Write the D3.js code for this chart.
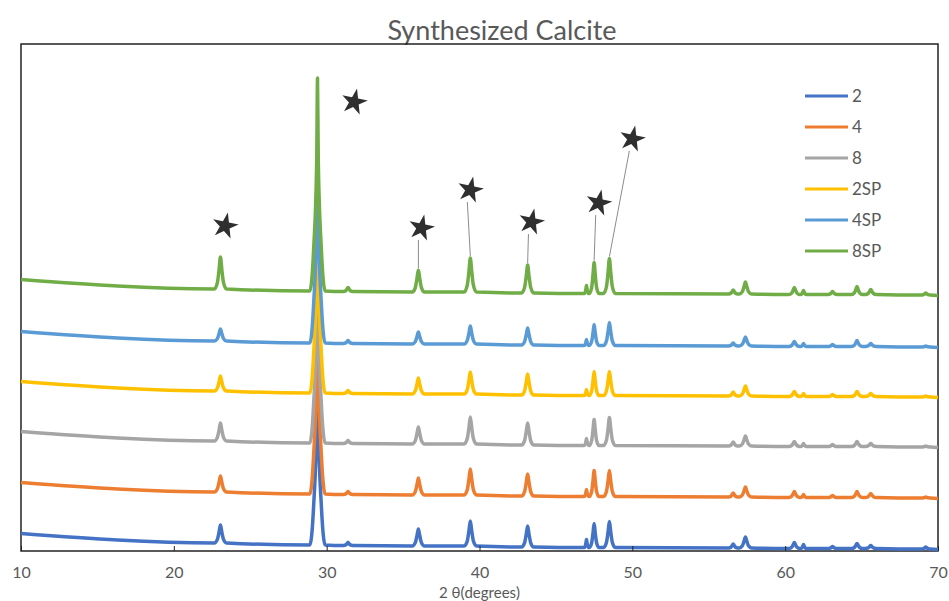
<!DOCTYPE html>
<html>
<head>
<meta charset="utf-8">
<script src="https://cdn.jsdelivr.net/npm/d3@7"></script>
<style>
  body { margin: 0; background: #fff; }
  text { font-family: Lato, "Liberation Sans", sans-serif; fill: #595959; }
</style>
</head>
<body>
<svg id="chart" width="949" height="601"></svg>
<script>
// series, drawn bottom to top
const seriesNames = ['2', '4', '8', '2SP', '4SP', '8SP']
const seriesColors = ['#4472C4', '#ED7D31', '#A5A5A5', '#FFC000', '#5B9BD5', '#70AD47']
const xTicks = [10, 20, 30, 40, 50, 60, 70]

// reflections (2 theta, degrees) and their half base width
const peakPos = [23.05, 29.4, 31.4, 36.0, 39.4, 43.15, 47.0, 47.5, 48.5, 56.6, 57.4, 60.6, 61.2, 63.1, 64.7, 65.6, 69.2]
const peakWidth = [0.4, 0.5, 0.3, 0.4, 0.4, 0.4, 0.15, 0.32, 0.38, 0.3, 0.4, 0.35, 0.2, 0.3, 0.35, 0.35, 0.3]
// background drift under each reflection, relative to the level near 28 deg
const baseDrift = [20, 0, -5, -10, -10, -20, -25, -25, -25, -30, -30, -35, -35, -35, -35, -35, -40]
const edgePos = [10, 70]
const edgeDrift = [115, -45]

// stacking offset of each pattern (a.u.)
const offsets = [60, 570, 1080, 1580, 2080, 2600]

// peak heights above background (a.u.)
const h2 = [180, 2000, 30, 170, 250, 210, 80, 240, 260, 40, 110, 60, 40, 20, 50, 30, 20]
const h4 = [160, 2000, 30, 170, 260, 220, 70, 260, 260, 40, 100, 60, 30, 20, 60, 40, 10]
const h8 = [180, 2000, 30, 170, 270, 220, 70, 260, 280, 40, 100, 50, 30, 20, 50, 30, 10]
const h2SP = [150, 2000, 30, 160, 220, 210, 60, 240, 240, 40, 100, 50, 30, 20, 50, 30, 10]
const h4SP = [120, 2000, 30, 120, 180, 170, 60, 210, 230, 30, 90, 50, 30, 20, 60, 30, 10]
const h8SP = [320, 2130, 40, 220, 340, 280, 80, 310, 350, 40, 120, 70, 40, 30, 80, 50, 20]
const heights = [h2, h4, h8, h2SP, h4SP, h8SP]

// star markers (2 theta, a.u.) and the reflection each one points to
const starPos = [23.35, 31.8, 36.2, 39.4, 43.4, 47.8, 50.0]
const starLevel = [3250, 4490, 3230, 3610, 3290, 3480, 4120]
const starPeak = [-1, -1, 3, 4, 5, 7, 8]

const svg = d3.select('#chart')
const margin = { left: 21, right: 11, top: 44, bottom: 50 }
const W = 949, H = 601

const x = d3.scaleLinear().domain([10, 70]).range([margin.left, W - margin.right])
const y = d3.scaleLinear().domain([0, 5070]).range([H - margin.bottom, margin.top])

function buildSeries(k) {
  const pts = [[edgePos[0], offsets[k] + edgeDrift[0]]]
  peakPos.forEach(function (p, i) {
    const b = offsets[k] + baseDrift[i]
    const h = heights[k][i]
    const w = peakWidth[i]
    // the main reflection keeps a narrow tip, the others are rounder
    const tip = i === 1 ? 0.1 : 0.22
    pts.push([p - w, b], [p - 0.5 * w, b + 0.2 * h], [p - tip * w, b + 0.62 * h], [p, b + h],
      [p + tip * w, b + 0.62 * h], [p + 0.5 * w, b + 0.2 * h], [p + w, b])
  })
  pts.push([edgePos[1], offsets[k] + edgeDrift[1]])
  return pts
}

const line = d3.line()
  .x(function (d) { return x(d[0]) })
  .y(function (d) { return y(d[1]) })
  .curve(d3.curveMonotoneX)

// title
svg.append('text')
  .attr('x', 502).attr('y', 40)
  .attr('text-anchor', 'middle')
  .style('font-size', '27px')
  .text('Synthesized Calcite')

// plot frame
svg.append('rect')
  .attr('x', x(10)).attr('y', y(5070))
  .attr('width', x(70) - x(10)).attr('height', y(0) - y(5070))
  .attr('fill', 'none').attr('stroke', '#222').attr('stroke-width', 1.5)

// patterns
const plot = svg.append('g')
seriesNames.forEach(function (name, k) {
  plot.append('path')
    .datum(buildSeries(k))
    .attr('fill', 'none')
    .attr('stroke', seriesColors[k])
    .attr('stroke-width', 3.5)
    .attr('stroke-linejoin', 'round')
    .attr('d', line)
})

// x axis, ticks point inward
const xAxis = svg.append('g')
  .attr('transform', 'translate(0,' + y(0) + ')')
  .call(d3.axisBottom(x).tickValues(xTicks).tickSizeInner(-5).tickSizeOuter(0).tickPadding(16))
xAxis.select('.domain').remove()
xAxis.selectAll('line').attr('stroke', '#222')
xAxis.selectAll('text')
  .style('font-family', 'Lato, "Liberation Sans", sans-serif')
  .style('font-size', '16px')
  .attr('fill', '#595959')

svg.append('text')
  .attr('x', (x(10) + x(70)) / 2).attr('y', 598)
  .attr('text-anchor', 'middle')
  .style('font-size', '15px')
  .text('2 θ(degrees)')

// stars and leader lines to the 8SP reflections
const top8SP = function (i) {
  return offsets[5] + baseDrift[i] + h8SP[i]
}
starPos.forEach(function (s, j) {
  const sx = x(s), sy = y(starLevel[j])
  if (starPeak[j] >= 0) {
    const p = starPeak[j]
    svg.append('line')
      .attr('x1', sx - 3).attr('y1', sy + 12)
      .attr('x2', x(peakPos[p])).attr('y2', y(top8SP(p)) - 2)
      .attr('stroke', '#8c8c8c').attr('stroke-width', 1)
  }
  svg.append('path')
    .attr('d', d3.symbol(d3.symbolStar, 210)())
    .attr('transform', 'translate(' + sx + ',' + sy + ') rotate(12)')
    .attr('fill', '#2f2f2f')
})

// legend
const legend = svg.append('g').attr('transform', 'translate(805,96)')
seriesNames.forEach(function (name, k) {
  const g = legend.append('g').attr('transform', 'translate(0,' + (k * 31) + ')')
  g.append('line')
    .attr('x1', 0).attr('x2', 43)
    .attr('stroke', seriesColors[k]).attr('stroke-width', 3)
  g.append('text')
    .attr('x', 47).attr('dy', '0.35em')
    .style('font-size', '17px')
    .text(name)
})
</script>
</body>
</html>
